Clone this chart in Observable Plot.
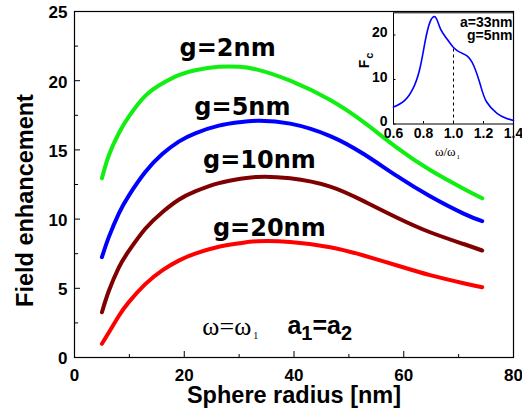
<!DOCTYPE html>
<html><head><meta charset="utf-8">
<script src="https://cdn.jsdelivr.net/npm/d3@7"></script>
<script src="https://cdn.jsdelivr.net/npm/@observablehq/plot@0.6"></script>
<style>
html,body{margin:0;padding:0;background:#fff;}
#wrap{position:relative;width:522px;height:413px;overflow:hidden;}
#wrap svg{position:absolute;left:0;top:0;}
</style></head><body><div id="wrap"></div>
<script>
// ---- main chart data ----
const radius = [5, 6.25, 8.07, 9.9, 12.9, 16.0, 19.0, 22.0, 26.3, 30, 33.3, 39.3, 46.6, 52.7, 58.8, 64.8, 70.9, 74.3];
const g2nm  = [12.95, 14.6, 16.2, 17.4, 18.9, 19.8, 20.4, 20.75, 21.0, 21.0, 20.8, 20.0, 18.6, 17.0, 15.15, 13.55, 12.2, 11.5];
const g5nm  = [7.25, 8.7, 10.4, 11.7, 13.4, 14.7, 15.6, 16.2, 16.75, 17.0, 17.1, 16.9, 16.0, 14.7, 13.1, 11.65, 10.4, 9.85];
const g10nm = [3.27, 4.8, 6.5, 7.7, 9.3, 10.5, 11.4, 12.0, 12.6, 12.9, 13.05, 12.95, 12.35, 11.3, 10.1, 9.05, 8.2, 7.73];
const g20nm = [0.99, 1.8, 3.0, 4.0, 5.3, 6.3, 7.0, 7.5, 8.0, 8.25, 8.4, 8.35, 7.97, 7.37, 6.65, 5.95, 5.37, 5.08];
const seriesNames = ["g=2nm", "g=5nm", "g=10nm", "g=20nm"];
const seriesColors = ["#11ee11", "#0000ff", "#7f0000", "#ff0000"];
const seriesValues = [g2nm, g5nm, g10nm, g20nm];
const labelX = [27.9, 30.6, 33.7, 35.5];
const labelY = [21.8, 17.5, 13.7, 8.8];
const xMajor = [0, 20, 40, 60, 80];
const xMinor = [10, 30, 50, 70];
const yMajor = [0, 5, 10, 15, 20, 25];
const yMinor = [2.5, 7.5, 12.5, 17.5, 22.5];

// ---- inset data ----
const omega = [0.6, 0.675, 0.74, 0.78, 0.81, 0.843, 0.88, 0.913, 0.957, 1.0, 1.045, 1.09, 1.135, 1.18, 1.22, 1.29, 1.35, 1.4];
const fc    = [3.8, 5.3, 8.7, 13.1, 18.4, 22.9, 24.0, 21.4, 19.1, 17.2, 16.1, 15.3, 13.1, 8.7, 5.0, 2.4, 1.3, 0.8];
const insetXTicks = [0.6, 0.8, 1.0, 1.2, 1.4];
const insetYTicks = [0, 10, 20];
const markedOmega = 1.0;

const rows = [];
seriesNames.forEach((s, i) => radius.forEach((r, j) => rows.push({series: s, r, v: seriesValues[i][j]})));
const labels = seriesNames.map((s, i) => ({s, x: labelX[i], y: labelY[i]}));
const insetRows = omega.map((w, i) => ({w, f: fc[i]}));
const markedRow = insetRows.find(d => d.w === markedOmega);

const sans = "'Liberation Sans', Arial, sans-serif";
const serif = "'Liberation Serif', 'Times New Roman', serif";

const main = Plot.plot({
  width: 522, height: 413,
  marginLeft: 74, marginRight: 9, marginTop: 11, marginBottom: 56,
  x: {domain: [0, 80]},
  y: {domain: [0, 25]},
  color: {domain: seriesNames, range: seriesColors},
  style: {background: "transparent", fontFamily: sans, overflow: "visible", color: "black"},
  marks: [
    Plot.frame({stroke: "black", strokeWidth: 1.2}),
    Plot.axisX({ticks: xMajor, tickSize: 0, tickPadding: 11, fontSize: 17, fontWeight: "bold", label: null, tickFormat: d => String(d)}),
    Plot.axisX({ticks: xMajor, tickSize: 6, dy: -6, tickFormat: () => "", label: null}),
    Plot.axisX({ticks: xMinor, tickSize: 3, dy: -3, tickFormat: () => "", label: null}),
    Plot.axisY({ticks: yMajor, tickSize: 0, tickPadding: 7, dy: 1.5, fontSize: 17, fontWeight: "bold", label: null, tickFormat: d => String(d)}),
    Plot.axisY({ticks: yMajor, tickSize: 6, dx: 6, tickFormat: () => "", label: null}),
    Plot.axisY({ticks: yMinor, tickSize: 4, dx: 4, tickFormat: () => "", label: null}),
    Plot.text(["Sphere radius [nm]"], {frameAnchor: "bottom", textAnchor: "middle", lineAnchor: "bottom", dy: 45, fontSize: 23.5, fontWeight: "bold"}),
    Plot.text(["Field enhancement"], {frameAnchor: "left", rotate: -90, textAnchor: "middle", lineAnchor: "bottom", dx: -42, dy: 16, fontSize: 23.5, fontWeight: "bold"}),
    Plot.line(rows, {x: "r", y: "v", z: "series", stroke: "series", strokeWidth: 4, curve: "natural"}),
    Plot.text(labels, {x: "x", y: "y", text: "s", lineAnchor: "bottom", textAnchor: "middle", fontSize: 24, fontWeight: "bold", fontFamily: "'DejaVu Sans', sans-serif"}),
    Plot.text(["ω=ω1"], {x: 23.3, y: 1.59, lineAnchor: "bottom", textAnchor: "start", fontSize: 26, fontFamily: serif}),
    Plot.text(["a1=a2"], {x: 38.8, y: 1.73, lineAnchor: "bottom", textAnchor: "start", fontSize: 25, fontWeight: "bold"})
  ]
});

const inset = Plot.plot({
  width: 522, height: 413,
  marginLeft: 393, marginRight: 9, marginTop: 12.3, marginBottom: 289.5,
  x: {domain: [0.6, 1.4]},
  y: {domain: [0, 25]},
  style: {background: "transparent", fontFamily: sans, overflow: "visible", color: "black"},
  marks: [
    Plot.frame({stroke: "black", strokeWidth: 1}),
    Plot.axisX({ticks: insetXTicks, tickSize: 0, tickPadding: 4.5, fontSize: 14, fontWeight: "bold", label: null, tickFormat: d3.format(".1f")}),
    Plot.axisX({ticks: insetXTicks, tickSize: 2.5, dy: -2.5, tickFormat: () => "", label: null}),
    Plot.axisY({ticks: insetYTicks, tickSize: 0, tickPadding: 6, dy: -2.5, fontSize: 14, fontWeight: "bold", label: null, tickFormat: d => String(d)}),
    Plot.axisY({ticks: insetYTicks, tickSize: 2.5, dx: 2.5, tickFormat: () => "", label: null}),
    Plot.text(["Fc"], {frameAnchor: "left", rotate: -90, textAnchor: "middle", lineAnchor: "bottom", dx: -25, dy: -8, fontSize: 14, fontWeight: "bold"}),
    Plot.text(["ω/ω1"], {frameAnchor: "bottom", textAnchor: "middle", lineAnchor: "bottom", dy: 31.5, dx: -6, fontSize: 13, fontFamily: serif}),
    Plot.text(["a=33nm\ng=5nm"], {frameAnchor: "top-right", textAnchor: "end", lineAnchor: "top", lineHeight: 0.88, dx: -1, dy: 5.8, fontSize: 14, fontWeight: "bold"}),
    Plot.ruleX([markedRow], {x: "w", y1: 0, y2: "f", stroke: "black", strokeWidth: 1, strokeDasharray: "3,3"}),
    Plot.line(insetRows, {x: "w", y: "f", stroke: "#0000ff", strokeWidth: 1.6, curve: "natural"})
  ]
});

const NS = "http://www.w3.org/2000/svg";
function subscript(svg, full, parts) {
  svg.querySelectorAll("text").forEach(t => {
    if (t.textContent === full) {
      while (t.firstChild) t.removeChild(t.firstChild);
      parts.forEach(p => {
        const ts = document.createElementNS(NS, "tspan");
        ts.textContent = p.t;
        if (p.dy != null) ts.setAttribute("dy", p.dy);
        if (p.dx != null) ts.setAttribute("dx", p.dx);
        if (p.size) ts.setAttribute("font-size", p.size);
        t.appendChild(ts);
      });
    }
  });
}
subscript(main, "ω=ω1", [{t: "ω=ω"}, {t: "1", dy: 4, dx: 2, size: 10}]);
subscript(main, "a1=a2", [{t: "a"}, {t: "1", dy: 6, size: 20}, {t: "=a", dy: -6}, {t: "2", dy: 6, size: 20}]);
subscript(inset, "Fc", [{t: "F"}, {t: "c", dy: 4, dx: 1, size: 11}]);
subscript(inset, "ω/ω1", [{t: "ω/ω"}, {t: "1", dy: 3, dx: 1, size: 7}]);

const wrap = document.getElementById("wrap");
wrap.appendChild(main);
wrap.appendChild(inset);
</script></body></html>
